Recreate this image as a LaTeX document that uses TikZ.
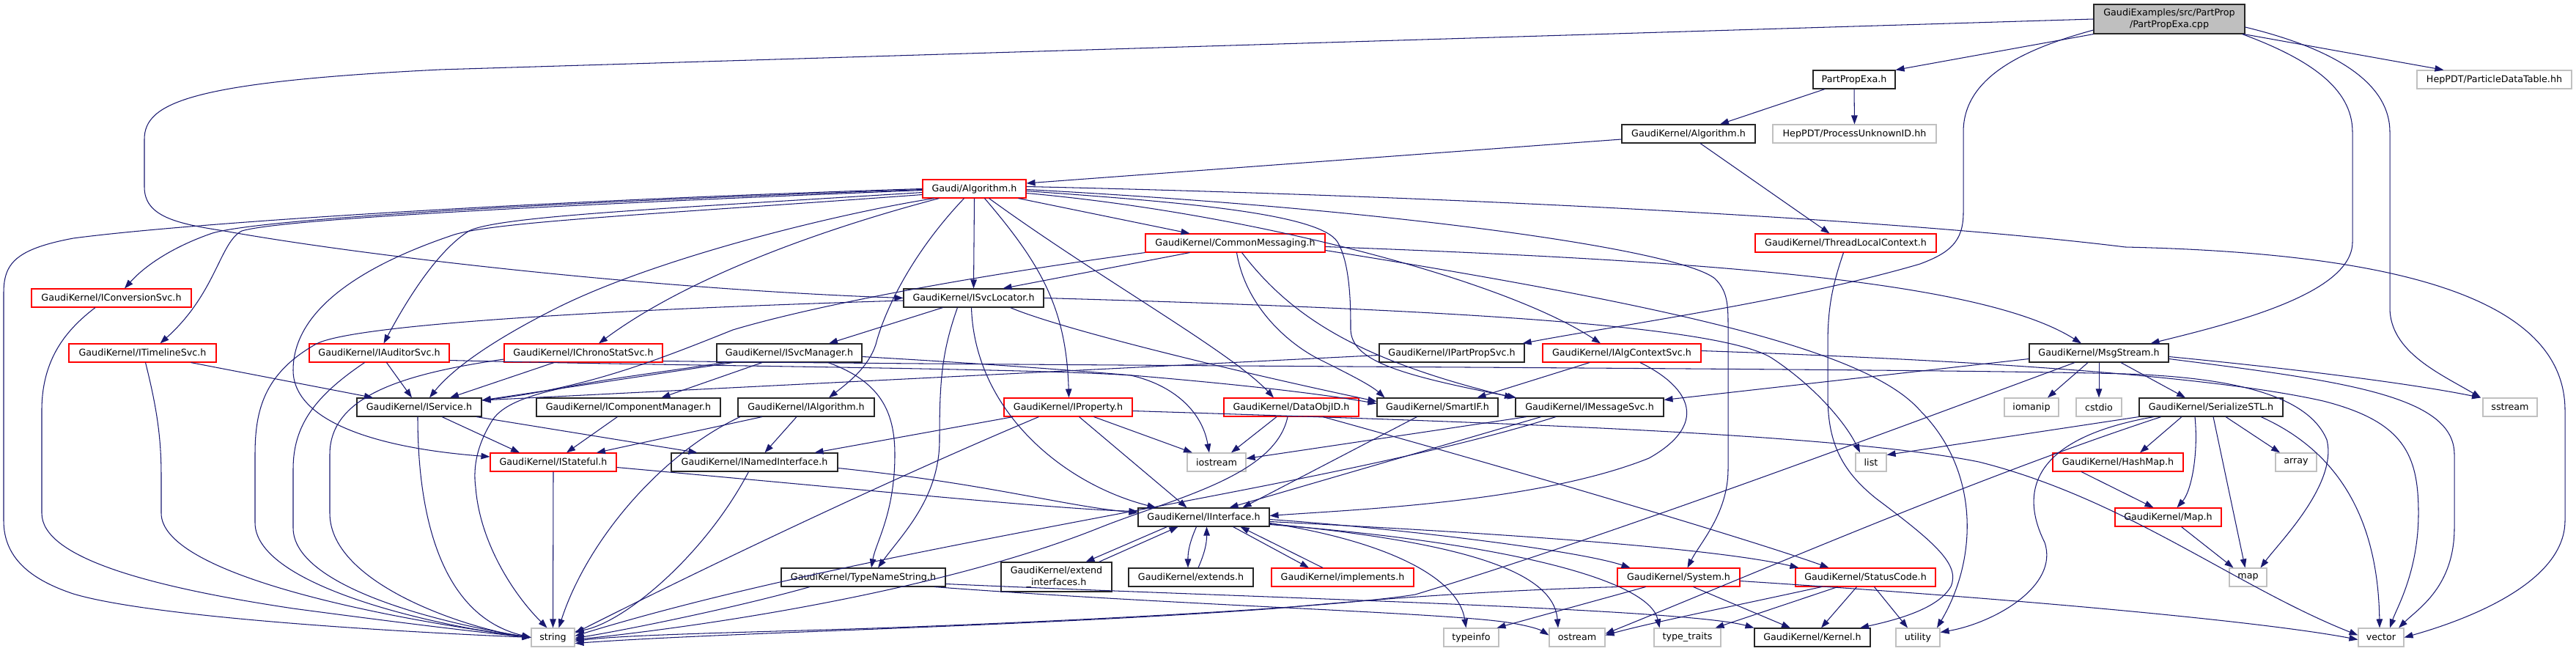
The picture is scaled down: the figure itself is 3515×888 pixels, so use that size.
\documentclass[tikz,border=0pt]{standalone}
\usepackage{fontspec}
\setmainfont{DejaVu Sans}
\usetikzlibrary{arrows.meta}
\definecolor{edgec}{HTML}{191970}
\definecolor{gborder}{HTML}{C0C0C0}
\definecolor{rootfill}{HTML}{BFBFBF}
\definecolor{redb}{HTML}{FF0000}
\tikzset{
  nd/.style={draw, minimum height=25pt, inner sep=0pt, line width=1.1pt,
    font=\fontsize{12.7}{15.5}\selectfont, align=center, fill=white},
  kb/.style={nd, draw=black!85},
  rb/.style={nd, draw=redb},
  gb/.style={nd, draw=gborder},
  eg/.style={draw=edgec, line width=1.05pt, -{Triangle[length=12pt,width=8.5pt]}}
}
\begin{document}
\begin{tikzpicture}[x=1pt,y=-1pt]
\useasboundingbox (0,0) rectangle (3515,888);
% ---------- nodes ----------
\node[nd, draw=black!85, fill=rootfill, minimum width=206pt, minimum height=40pt] (R) at (2960,26) {GaudiExamples/src/PartProp\\/PartPropExa.cpp};
\node[gb, minimum width=211pt] (PDT) at (3403.5,108.5) {HepPDT/ParticleDataTable.hh};
\node[kb, minimum width=112pt] (PPE) at (2530,108.5) {PartPropExa.h};
\node[gb, minimum width=223pt] (PUID) at (2530.5,182.5) {HepPDT/ProcessUnknownID.hh};
\node[kb, minimum width=182pt] (GKA) at (2304,182.5) {GaudiKernel/Algorithm.h};
\node[rb, minimum width=247pt] (TLC) at (2518.5,331.5) {GaudiKernel/ThreadLocalContext.h};
\node[rb, minimum width=141pt] (GA) at (1329.5,257.5) {Gaudi/Algorithm.h};
\node[rb, minimum width=245pt] (CMG) at (1685.5,331.5) {GaudiKernel/CommonMessaging.h};
\node[kb, minimum width=191pt] (SL) at (1328.5,406.5) {GaudiKernel/ISvcLocator.h};
\node[rb, minimum width=218pt] (CONV) at (152,406.5) {GaudiKernel/IConversionSvc.h};
\node[rb, minimum width=201pt] (TL) at (194.5,481.5) {GaudiKernel/ITimelineSvc.h};
\node[rb, minimum width=191pt] (AUD) at (517.5,481.5) {GaudiKernel/IAuditorSvc.h};
\node[rb, minimum width=216pt] (CHR) at (796,481.5) {GaudiKernel/IChronoStatSvc.h};
\node[kb, minimum width=198pt] (SM) at (1077,481.5) {GaudiKernel/ISvcManager.h};
\node[kb, minimum width=198pt] (PPS) at (1981,481.5) {GaudiKernel/IPartPropSvc.h};
\node[rb, minimum width=216pt] (ACS) at (2213,481.5) {GaudiKernel/IAlgContextSvc.h};
\node[kb, minimum width=190pt] (MS) at (2864,481.5) {GaudiKernel/MsgStream.h};
\node[kb, minimum width=170pt] (SV) at (572,555.5) {GaudiKernel/IService.h};
\node[kb, minimum width=251pt] (CM) at (857.5,555.5) {GaudiKernel/IComponentManager.h};
\node[kb, minimum width=186pt] (ALG) at (1100,555.5) {GaudiKernel/IAlgorithm.h};
\node[rb, minimum width=175pt] (PR) at (1457.5,555.5) {GaudiKernel/IProperty.h};
\node[rb, minimum width=184pt] (DO) at (1762,555.5) {GaudiKernel/DataObjID.h};
\node[kb, minimum width=165pt] (SI) at (1961.5,555.5) {GaudiKernel/SmartIF.h};
\node[kb, minimum width=202pt] (MSV) at (2169,555.5) {GaudiKernel/IMessageSvc.h};
\node[gb, minimum width=74pt] (IOM) at (2772,555.5) {iomanip};
\node[gb, minimum width=62pt] (CST) at (2864,555.5) {cstdio};
\node[kb, minimum width=196pt] (SSTL) at (3017,555.5) {GaudiKernel/SerializeSTL.h};
\node[gb, minimum width=74pt] (SS) at (3425,555.5) {sstream};
\node[rb, minimum width=172pt] (ST) at (755,630.5) {GaudiKernel/IStateful.h};
\node[kb, minimum width=227pt] (NI) at (1029.5,630.5) {GaudiKernel/INamedInterface.h};
\node[gb, minimum width=80pt] (IOS) at (1660,630.5) {iostream};
\node[gb, minimum width=42pt] (LIST) at (2553,630.5) {list};
\node[rb, minimum width=178pt] (HM) at (2890,630.5) {GaudiKernel/HashMap.h};
\node[gb, minimum width=56pt] (ARR) at (3133,630.5) {array};
\node[kb, minimum width=179pt] (II) at (1642.5,705.5) {GaudiKernel/IInterface.h};
\node[rb, minimum width=145pt] (MAPH) at (2958.5,705.5) {GaudiKernel/Map.h};
\node[kb, minimum width=224pt] (TNS) at (1178,787.5) {GaudiKernel/TypeNameString.h};
\node[kb, minimum width=151pt, minimum height=40pt] (EXI) at (1441.5,787) {GaudiKernel/extend\\\_interfaces.h};
\node[kb, minimum width=170pt] (EXT) at (1625,787.5) {GaudiKernel/extends.h};
\node[rb, minimum width=194pt] (IMP) at (1832,787.5) {GaudiKernel/implements.h};
\node[rb, minimum width=167pt] (SYS) at (2290.5,787.5) {GaudiKernel/System.h};
\node[rb, minimum width=191pt] (SC) at (2545.5,787.5) {GaudiKernel/StatusCode.h};
\node[gb, minimum width=51pt] (MAP) at (3067.5,787.5) {map};
\node[gb, minimum width=59pt] (STR) at (754.5,869.5) {string};
\node[gb, minimum width=75pt] (TI) at (2007.5,869.5) {typeinfo};
\node[gb, minimum width=76pt] (OS) at (2152,869.5) {ostream};
\node[gb, minimum width=91pt] (TT) at (2302.5,869.5) {type\_traits};
\node[kb, minimum width=158pt] (KER) at (2473,869.5) {GaudiKernel/Kernel.h};
\node[gb, minimum width=60pt] (UT) at (2617,869.5) {utility};
\node[gb, minimum width=62pt] (VEC) at (3249,869.5) {vector};
% ---------- edges from root ----------
\draw[eg] (R.south west) -- (PPE.north east);
\draw[eg] ([xshift=-2pt]R.south east) -- ([xshift=37pt]PDT.north west);
\draw[eg] (R.west) -- (600,95) .. controls (260,112) and (197,140) .. (197,190) -- (197,255) .. controls (197,295) and (240,305) .. (306,315) .. controls (500,350) and (900,395) .. (SL.west);
\draw[eg] ([yshift=-15pt]R.west) .. controls (2750,70) and (2679,110) .. (2679,180) -- (2679,290) .. controls (2679,330) and (2660,345) .. (2620,360) .. controls (2450,410) and (2200,445) .. ([xshift=-3pt]PPS.north east);
\draw[eg] ([xshift=-4pt]R.south east) .. controls (3150,80) and (3210,120) .. (3210,180) -- (3210,330) .. controls (3210,400) and (3050,440) .. ([xshift=-25pt]MS.north east);
\draw[eg] ([yshift=-11pt]R.east) .. controls (3200,70) and (3261,120) .. (3261,180) -- (3261,420) .. controls (3261,480) and (3330,510) .. ([xshift=-40pt]SS.north);
% ---------- PartPropExa.h, GaudiKernel/Algorithm.h ----------
\draw[eg] ([xshift=-40pt]PPE.south) -- ([xshift=43pt]GKA.north);
\draw[eg] (PPE.south) -- (PUID.north);
\draw[eg] ([yshift=-7.5pt]GKA.west) -- ([yshift=7.5pt]GA.east);
\draw[eg] ([xshift=16pt]GKA.south) -- ([xshift=-22pt]TLC.north);
\draw[eg] ([xshift=-3pt]TLC.south) .. controls (2500,390) and (2494,420) .. (2494,470) -- (2494,540) .. controls (2494,600) and (2510,640) .. (2560,680) .. controls (2640,740) and (2675,770) .. (2662,800) .. controls (2645,830) and (2590,845) .. ([xshift=65pt]KER.north);
% ---------- Gaudi/Algorithm.h ----------
\draw[eg] (GA.west) .. controls (700,275) and (250,305) .. (100,325) .. controls (20,340) and (5,360) .. (5,400) -- (5,710) .. controls (5,760) and (40,790) .. (100,810) .. controls (200,840) and (500,860) .. (STR.west);
\draw[eg] ([yshift=-1pt]GA.west) .. controls (700,278) and (350,300) .. (290,318) .. controls (240,335) and (200,360) .. ([xshift=18pt]CONV.north);
\draw[eg] ([yshift=-2pt]GA.west) .. controls (700,282) and (380,300) .. (330,315) .. controls (300,330) and (295,400) .. ([xshift=24pt]TL.north);
\draw[eg] ([yshift=-5pt]GA.west) .. controls (900,285) and (680,295) .. (640,315) .. controls (600,340) and (560,400) .. ([xshift=6pt]AUD.north);
\draw[eg] ([yshift=-8pt]GA.west) .. controls (900,292) and (680,302) .. (620,320) .. controls (500,360) and (400,420) .. (400,505) .. controls (400,570) and (500,610) .. ([yshift=7.5pt]ST.west);
\draw[eg] ([xshift=-55pt]GA.south) .. controls (1150,290) and (900,350) .. (760,420) .. controls (680,460) and (620,500) .. ([xshift=14pt]SV.north);
\draw[eg] ([xshift=-48pt]GA.south) .. controls (1150,305) and (950,370) .. ([xshift=21pt]CHR.north);
\draw[eg] (GA.south) -- (SL.north);
\draw[eg] ([xshift=-14pt]GA.south) .. controls (1240,350) and (1205,430) .. (1195,470) .. controls (1185,500) and (1160,520) .. ([xshift=31pt]ALG.north);
\draw[eg] ([xshift=14pt]GA.south) .. controls (1420,360) and (1455,420) .. ([xshift=1pt]PR.north);
\draw[eg] ([xshift=20pt]GA.south) .. controls (1500,380) and (1680,480) .. ([xshift=-24pt]DO.north);
\draw[eg] ([xshift=60pt]GA.south) -- ([xshift=-62pt]CMG.north);
\draw[eg] ([yshift=-3pt]GA.east) .. controls (1600,275) and (1800,290) .. (1825,330) .. controls (1843,360) and (1843,420) .. (1843,450) .. controls (1845,490) and (1900,510) .. ([xshift=-100pt]MSV.north);
\draw[eg] ([yshift=-6pt]GA.east) .. controls (1700,290) and (2050,380) .. ([xshift=-29pt]ACS.north);
\draw[eg] ([yshift=-1pt]GA.east) .. controls (1900,285) and (2290,340) .. (2340,380) .. controls (2355,395) and (2358,410) .. (2358,440) -- (2358,640) .. controls (2358,700) and (2320,740) .. ([xshift=12pt]SYS.north);
\draw[eg] ([yshift=3pt]GA.east) .. controls (2000,268) and (2600,300) .. (2900,337) .. controls (3250,345) and (3500,400) .. (3500,560) -- (3500,710) .. controls (3500,800) and (3350,850) .. (VEC.east);
% ---------- row 4/5 services ----------
\draw[eg] ([xshift=-22pt]CONV.south) .. controls (90,450) and (57,490) .. (57,560) -- (57,700) .. controls (57,760) and (200,800) .. (400,830) .. controls (550,850) and (650,862) .. (STR.west);
\draw[eg] ([xshift=4pt]TL.south) .. controls (215,560) and (220,600) .. (220,650) -- (220,700) .. controls (220,780) and (500,840) .. (STR.west);
\draw[eg] ([xshift=66pt]TL.south) -- ([xshift=-63pt]SV.north);
\draw[eg] ([xshift=10pt]AUD.south) -- ([xshift=-10pt]SV.north);
\draw[eg] ([xshift=-20pt]AUD.south) .. controls (430,540) and (400,580) .. (400,640) -- (400,720) .. controls (400,800) and (600,850) .. (STR.west);
\draw[eg] ([yshift=-10pt]AUD.east) .. controls (900,499) and (1400,502) .. (1543,512) .. controls (1600,525) and (1640,560) .. ([xshift=-10pt]IOS.north);
\draw[eg] ([xshift=-40pt]CHR.south) -- ([xshift=42pt]SV.north);
\draw[eg] ([yshift=-8.5pt]CHR.west) .. controls (550,510) and (450,540) .. (450,620) -- (450,700) .. controls (450,800) and (650,860) .. (STR.west);
\draw[eg] ([yshift=-11pt]CHR.east) .. controls (1500,500) and (2600,502) .. (2900,510) .. controls (3050,515) and (3150,540) .. (3175,600) .. controls (3190,660) and (3110,740) .. ([xshift=17pt]MAP.north);
% ---------- ISvcLocator ----------
\draw[eg] ([xshift=-42pt]SL.south) -- ([xshift=54pt]SM.north);
\draw[eg] ([yshift=-3.5pt]SL.west) .. controls (900,420) and (480,440) .. (430,470) .. controls (360,510) and (348,560) .. (348,620) -- (348,713) .. controls (348,800) and (600,855) .. (STR.west);
\draw[eg] ([xshift=-22pt]SL.south) .. controls (1285,480) and (1282,520) .. (1282,600) .. controls (1282,680) and (1230,730) .. ([xshift=20pt]TNS.north);
\draw[eg] ([xshift=-3pt]SL.south) .. controls (1330,560) and (1450,660) .. ([xshift=-65pt]II.north);
\draw[eg] ([xshift=50pt]SL.south) .. controls (1450,450) and (1700,510) .. ([yshift=8pt]SI.west);
\draw[eg] (SL.east) .. controls (1900,420) and (2350,440) .. (2420,490) .. controls (2480,530) and (2520,580) .. ([xshift=-15pt]LIST.north);
% ---------- ISvcManager ----------
\draw[eg] ([xshift=-77pt]SM.south) -- ([yshift=9.5pt]SV.east);
\draw[eg] ([xshift=-37pt]SM.south) -- ([xshift=45pt]CM.north);
\draw[eg] ([yshift=-5pt]SM.east) .. controls (1500,505) and (1750,528) .. ([yshift=5pt]SI.west);
\draw[eg] ([xshift=53pt]SM.south) .. controls (1200,520) and (1221,560) .. (1221,620) .. controls (1221,700) and (1195,740) .. ([xshift=11pt]TNS.north);
\draw[eg] ([xshift=-88pt]SM.south) .. controls (820,520) and (700,530) .. (672,573) .. controls (652,605) and (645,635) .. (649,665) .. controls (655,740) and (700,810) .. ([xshift=-8pt]STR.north);
\draw[eg] ([xshift=-15pt]CM.south) -- ([xshift=18pt]ST.north);
% ---------- IService / IAlgorithm / IProperty ----------
\draw[eg] ([xshift=31pt]SV.south) -- ([xshift=-46pt]ST.north);
\draw[eg] ([xshift=78pt]SV.south) -- ([xshift=-78pt]NI.north);
\draw[eg] ([xshift=-2pt]SV.south) .. controls (570,700) and (600,840) .. (STR.west);
\draw[eg] ([xshift=-60pt]ALG.south) -- ([xshift=59pt]ST.north);
\draw[eg] ([xshift=-13pt]ALG.south) -- ([xshift=14pt]NI.north);
\draw[eg] ([xshift=-90pt]ALG.south) .. controls (900,620) and (800,740) .. ([xshift=8pt]STR.north);
\draw[eg] ([xshift=-75pt]PR.south) -- ([xshift=82pt]NI.north);
\draw[eg] ([xshift=-40pt]PR.south) .. controls (1200,660) and (950,780) .. ([yshift=6pt]STR.east);
\draw[eg] ([xshift=15pt]PR.south) -- ([xshift=-23pt]II.north);
\draw[eg] ([xshift=35pt]PR.south) -- ([xshift=-33pt]IOS.north);
\draw[eg] ([yshift=-5pt]PR.east) .. controls (2000,575) and (2500,590) .. (2700,630) .. controls (2900,680) and (3050,800) .. ([yshift=3pt]VEC.west);
% ---------- DataObjID, SmartIF, IMessageSvc, IAlgContextSvc, IPartPropSvc ----------
\draw[eg] ([xshift=-20pt]DO.south) -- ([xshift=20pt]IOS.north);
\draw[eg] ([xshift=-5pt]DO.south) .. controls (1740,650) and (1600,680) .. (1500,720) .. controls (1300,800) and (1000,850) .. ([yshift=-3pt]STR.east);
\draw[eg] ([xshift=43pt]DO.south) .. controls (2100,650) and (2400,740) .. ([xshift=-50pt]SC.north);
\draw[eg] ([xshift=-28pt]SI.south) -- ([xshift=53pt]II.north);
\draw[eg] ([xshift=-66pt]MSV.south) -- ([xshift=35pt]II.north);
\draw[eg] ([xshift=-46pt]MSV.south) .. controls (1800,670) and (1200,740) .. ([yshift=2pt]STR.east);
\draw[eg] ([xshift=-86pt]MSV.south) -- ([yshift=5pt]IOS.east);
\draw[eg] ([xshift=-44pt]ACS.south) -- ([xshift=54pt]SI.north);
\draw[eg] ([xshift=25pt]ACS.south) .. controls (2310,530) and (2330,580) .. (2250,625) .. controls (2100,685) and (1850,695) .. ([yshift=2pt]II.east);
\draw[eg] ([yshift=3pt]ACS.east) .. controls (2800,495) and (3050,520) .. (3170,547) .. controls (3280,575) and (3300,620) .. (3300,700) .. controls (3300,780) and (3270,830) .. ([xshift=12pt]VEC.north);
\draw[eg] ([yshift=-3pt]PPS.west) -- ([yshift=9.5pt]SV.east);
% ---------- CommonMessaging ----------
\draw[eg] ([xshift=-62pt]CMG.south) -- ([xshift=40pt]SL.north);
\draw[eg] (CMG.south west) .. controls (1300,380) and (1100,420) .. (1000,450) .. controls (900,490) and (800,530) .. ([yshift=9.5pt]SV.east);
\draw[eg] ([xshift=2pt]CMG.south) .. controls (1700,420) and (1760,470) .. (1800,490) .. controls (1840,510) and (1870,525) .. ([xshift=-72pt]SI.north);
\draw[eg] ([xshift=9pt]CMG.south) .. controls (1760,430) and (1850,490) .. ([xshift=-104pt]MSV.north);
\draw[eg] ([yshift=-5pt]CMG.east) .. controls (2300,355) and (2700,380) .. ([xshift=-24pt]MS.north);
\draw[eg] ([yshift=-10pt]CMG.east) .. controls (2300,420) and (2550,480) .. (2620,560) .. controls (2700,640) and (2700,760) .. ([xshift=26pt]UT.north);
% ---------- MsgStream ----------
\draw[eg] ([yshift=-8pt]MS.west) -- ([yshift=10pt]MSV.east);
\draw[eg] ([xshift=-33pt]MS.south) .. controls (2600,580) and (2200,730) .. (1931,811) .. controls (1800,832) and (1350,852) .. (1160,858) .. controls (1000,863) and (850,866) .. ([yshift=-5pt]STR.east);
\draw[eg] ([xshift=-15pt]MS.south) -- ([xshift=22pt]IOM.north);
\draw[eg] (MS.south) -- (CST.north);
\draw[eg] ([xshift=30pt]MS.south) -- ([xshift=-35pt]SSTL.north);
\draw[eg] ([yshift=-5pt]MS.east) .. controls (3150,505) and (3300,525) .. ([xshift=-40pt]SS.north);
\draw[eg] ([yshift=-8pt]MS.east) .. controls (3200,520) and (3349,540) .. (3349,620) -- (3349,720) .. controls (3349,800) and (3300,830) .. ([xshift=24pt]VEC.north);
% ---------- SerializeSTL, HashMap, Map ----------
\draw[eg] (SSTL.south west) -- ([yshift=10pt]LIST.east);
\draw[eg] ([xshift=-68pt]SSTL.south) .. controls (2700,650) and (2400,780) .. ([yshift=5pt]OS.east);
\draw[eg] ([xshift=-78pt]SSTL.south) .. controls (2760,600) and (2760,680) .. (2790,740) .. controls (2810,800) and (2720,850) .. ([yshift=7pt]UT.east);
\draw[eg] ([xshift=-40pt]SSTL.south) -- ([xshift=30pt]HM.north);
\draw[eg] ([xshift=-22pt]SSTL.south) .. controls (3000,620) and (2990,670) .. ([xshift=12pt]MAPH.north);
\draw[eg] ([xshift=3pt]SSTL.south) -- ([xshift=-4pt]MAP.north);
\draw[eg] ([xshift=20pt]SSTL.south) -- ([xshift=-22pt]ARR.north);
\draw[eg] ([xshift=68pt]SSTL.south) .. controls (3200,620) and (3245,720) .. ([xshift=-2pt]VEC.north);
\draw[eg] ([xshift=-50pt]HM.south) -- ([xshift=-20pt]MAPH.north);
\draw[eg] ([xshift=18pt]MAPH.south) -- ([xshift=-20pt]MAP.north);
% ---------- IStateful, INamedInterface ----------
\draw[eg] ([yshift=-7pt]ST.east) .. controls (1200,670) and (1450,695) .. ([yshift=8pt]II.west);
\draw[eg] (ST.south) -- (STR.north);
\draw[eg] ([yshift=-8pt]NI.east) .. controls (1350,660) and (1450,690) .. ([yshift=6pt]II.west);
\draw[eg] ([xshift=-8pt]NI.south) .. controls (960,760) and (850,850) .. ([yshift=8pt]STR.east);
% ---------- IInterface ----------
\draw[eg] ([xshift=-50pt]II.south) -- ([xshift=40pt]EXI.north);
\draw[eg] ([xshift=58pt]EXI.north) -- ([xshift=-35pt]II.south);
\draw[eg] ([xshift=-10pt]II.south) to[bend right=12] ([xshift=-4pt]EXT.north);
\draw[eg] ([xshift=10pt]EXT.north) to[bend right=12] ([xshift=4pt]II.south);
\draw[eg] ([xshift=40pt]II.south) -- ([xshift=-46pt]IMP.north);
\draw[eg] ([xshift=-27pt]IMP.north) -- ([xshift=50pt]II.south);
\draw[eg] ([yshift=-3pt]II.east) .. controls (1900,720) and (2150,750) .. ([xshift=-66pt]SYS.north);
\draw[eg] ([yshift=-6pt]II.east) .. controls (2100,730) and (2350,750) .. ([xshift=5pt]SC.north west);
\draw[eg] ([yshift=-8pt]II.east) .. controls (1900,740) and (1990,790) .. ([xshift=-7pt]TI.north);
\draw[eg] ([yshift=-9pt]II.east) .. controls (2000,740) and (2120,780) .. ([xshift=-26pt]OS.north);
\draw[eg] ([yshift=-10pt]II.east) .. controls (2050,740) and (2250,790) .. ([xshift=-38pt]TT.north);
% ---------- TypeNameString, System, StatusCode ----------
\draw[eg] ([xshift=-73pt]TNS.south) .. controls (1000,830) and (850,860) .. ([yshift=-1pt]STR.east);
\draw[eg] ([yshift=-9pt]TNS.east) .. controls (1700,815) and (2300,830) .. (KER.north west);
\draw[eg] ([xshift=97pt]TNS.south) .. controls (1600,825) and (1950,835) .. (2050,848) .. controls (2080,852) and (2100,858) .. ([yshift=3pt]OS.west);
\draw[eg] ([xshift=20pt]SYS.south) -- ([xshift=-30pt]KER.north);
\draw[eg] (SYS.south west) .. controls (2050,805) and (1900,815) .. (1740,830) .. controls (1400,855) and (1000,862) .. ([yshift=-8pt]STR.east);
\draw[eg] ([xshift=-45pt]SYS.south) -- ([xshift=35pt]TI.north);
\draw[eg] ([yshift=-5pt]SYS.east) .. controls (2800,820) and (3100,850) .. ([yshift=-3pt]VEC.west);
\draw[eg] ([xshift=-12pt]SC.south) -- ([xshift=12pt]KER.north);
\draw[eg] ([xshift=12pt]SC.south) -- ([xshift=-14pt]UT.north);
\draw[eg] ([xshift=-38pt]SC.south) -- ([xshift=38pt]TT.north);
\draw[eg] ([xshift=-60pt]SC.south) .. controls (2350,830) and (2250,850) .. ([yshift=3pt]OS.east);
\end{tikzpicture}
\end{document}
